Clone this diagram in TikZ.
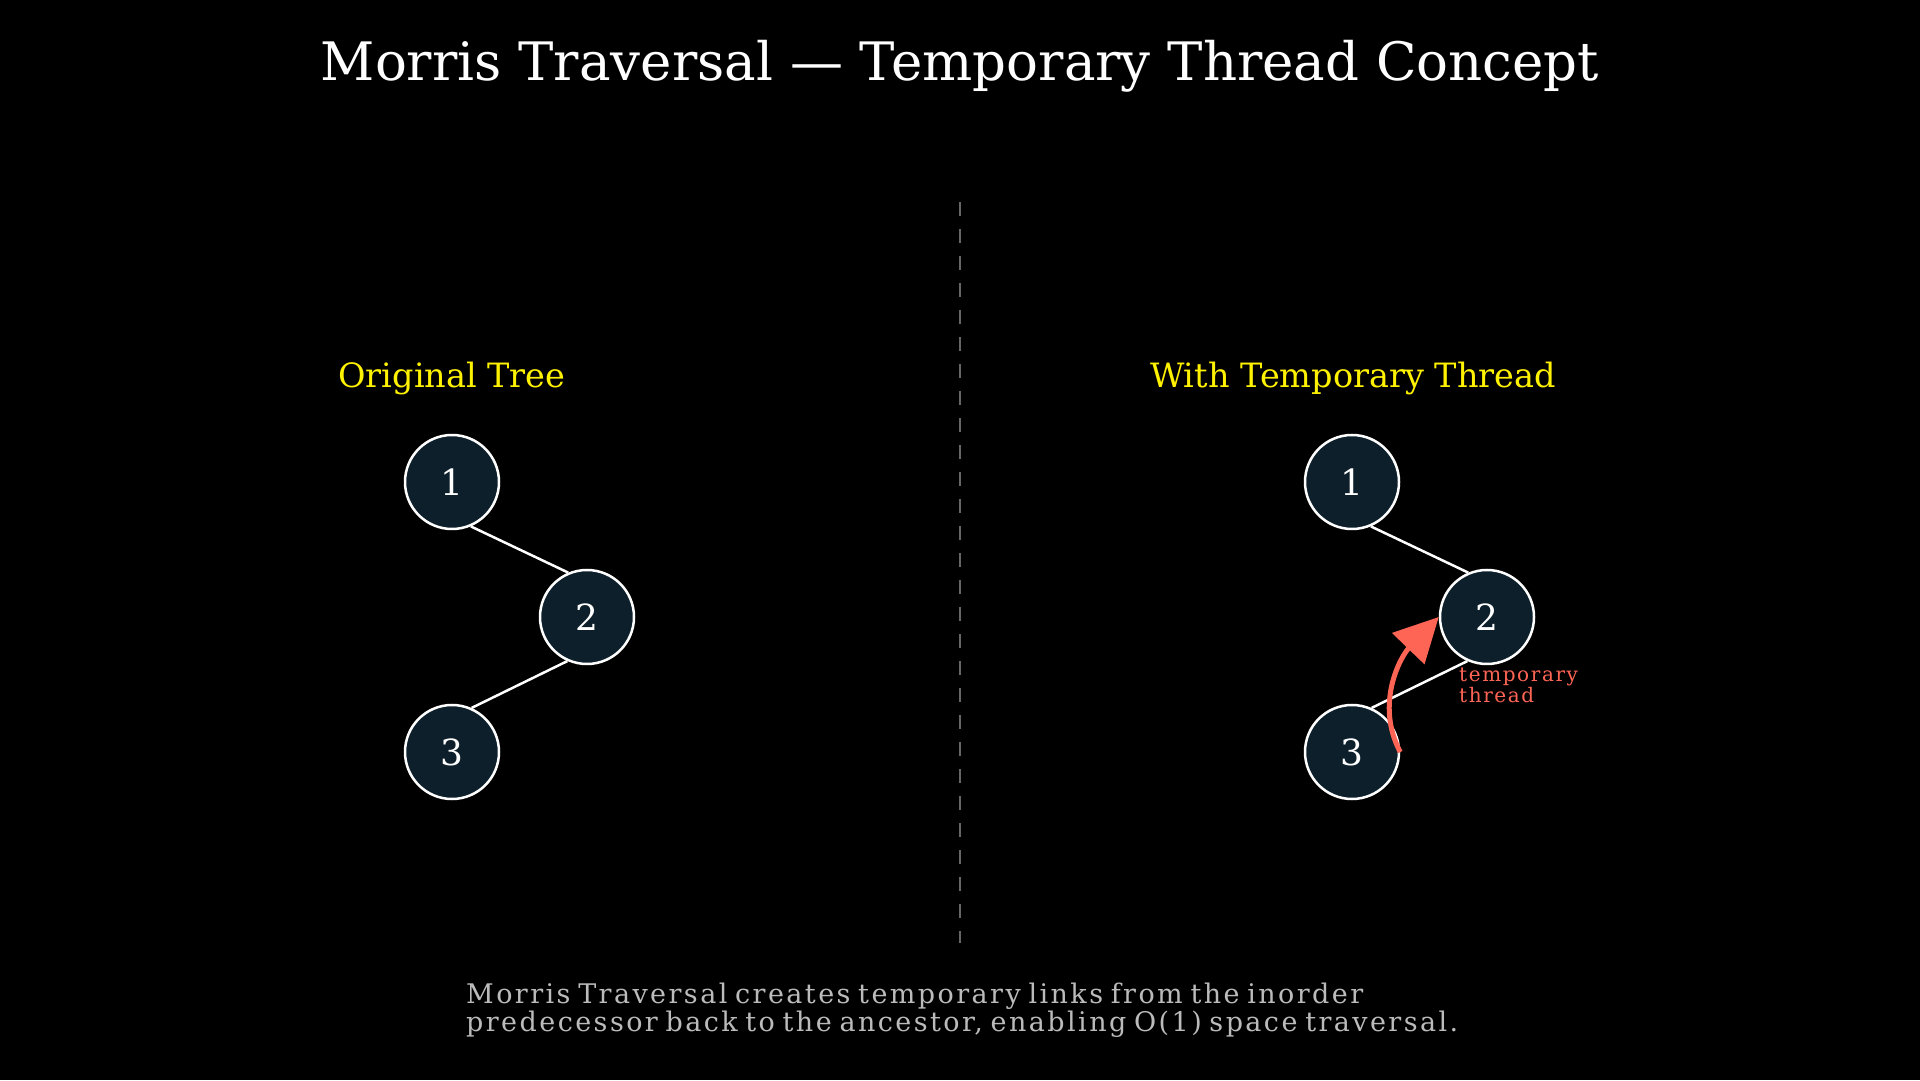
\documentclass[tikz,border=0pt]{standalone}
\usepackage{fontspec}
\setmainfont{DejaVu Serif}
\newfontfamily\notefont[LetterSpace=9,WordSpace=0.7]{DejaVu Serif}
\newfontfamily\threadfont[LetterSpace=8]{DejaVu Serif}
\usetikzlibrary{arrows.meta}
\definecolor{nodefill}{HTML}{0D1F2B}
\definecolor{thread}{HTML}{FF6555}
\definecolor{note}{HTML}{BBBBBB}
\definecolor{divider}{HTML}{666666}
\tikzset{
  tnode/.style={draw=white, fill=nodefill, circle, line width=2.5pt, minimum size=94pt, inner sep=0pt, text=white, font=\fontsize{36}{40}\selectfont},
  tedge/.style={draw=white, line width=2.5pt},
  label/.style={text=yellow, font=\fontsize{33.5}{38}\selectfont}
}
\begin{document}
\begin{tikzpicture}[x=1pt,y=1pt]
\useasboundingbox[fill=black] (0,0) rectangle (1920,1080);
\node[text=white, font=\fontsize{53}{60}\selectfont](title) at (960,1014){Morris Traversal — Temporary Thread Concept};
\coordinate (top) at (960,878);
\coordinate (bottom) at (960,137);
\draw[divider, line width=2pt, dash pattern=on 14pt off 13pt] (top) -- (bottom);
% original tree
\node[label](orig) at (452,702){Original Tree};
\node[tnode](a1) at (452,598){1};
\node[tnode](a2) at (587,463){2};
\node[tnode](a3) at (452,328){3};
\draw[tedge] (a1.-67) -- (a2.113);
\draw[tedge] (a2.-114) -- (a3.66);
% threaded tree
\node[label](thr) at (1353,702){With Temporary Thread};
\node[tnode](b1) at (1352,598){1};
\node[tnode](b2) at (1487,463){2};
\node[tnode](b3) at (1352,328){3};
\draw[tedge] (b1.-67) -- (b2.113);
\draw[tedge] (b2.-114) -- (b3.66);
\draw[thread, line width=5pt, -{Triangle[length=44pt, width=44pt]}] (b3.east) to[out=118, in=226] (b2.west);
\node[text=thread, anchor=north west, inner sep=0pt, align=left, font=\threadfont\fontsize{20}{21}\selectfont](tlabel) at (1459,412){temporary\\thread};
% note
\node[text=note, anchor=north west, inner sep=0pt, align=left, font=\notefont\fontsize{27}{24}\selectfont](foot) at (466,97){Morris Traversal creates temporary links from the inorder\\predecessor back to the ancestor, enabling O(1) space traversal.};
\end{tikzpicture}
\end{document}
